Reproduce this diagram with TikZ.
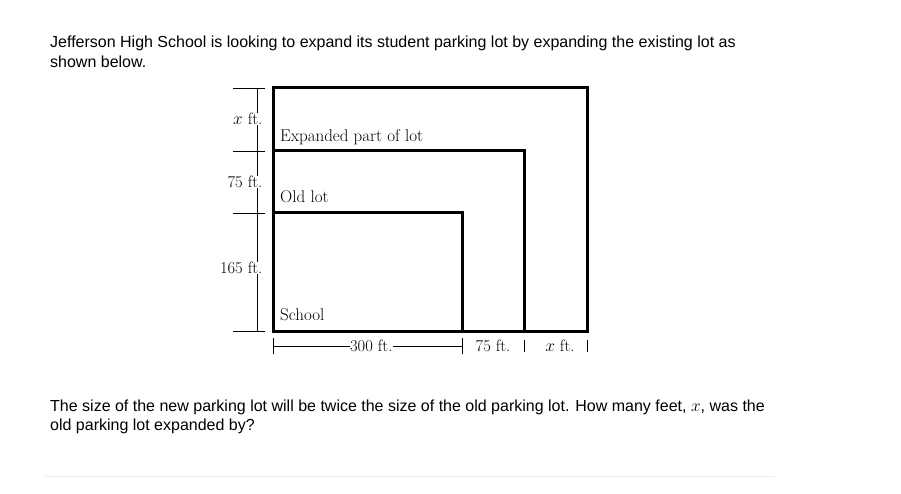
\documentclass[tikz,border=0pt]{standalone}
\usepackage{fontspec}
\newfontfamily\qfont{Liberation Sans}
\usetikzlibrary{calc,positioning}

\begin{document}
\begin{tikzpicture}[x=1pt,y=-1pt,
        LotCfg/.style={line width=3pt,line join=miter},
        DimCfg/.style={line width=0.9pt},
        DimText/.style={fill=white,inner sep=0.5pt,font=\fontsize{16.5}{18}\selectfont},
        LotText/.style={anchor=west,inner sep=0pt,font=\fontsize{17}{19}\selectfont},
        QText/.style={anchor=west,align=left,inner sep=0pt,font=\qfont\fontsize{16}{19.5}\selectfont}
    ]
    \useasboundingbox (0,0) rectangle (901,494);
    
    % question
    \node[QText] (Q1) at (50,52) {Jefferson High School is looking to expand its student parking lot by expanding the existing lot as\\shown below.};
    \node[QText] (Q2) at (50,417) {The size of the new parking lot will be twice the size of the old parking lot. How many feet, $x$, was the\\old parking lot expanded by?};
    \draw[gray!15,line width=0.8pt] (45,476)coordinate (R1)--(775,476)coordinate (R2);
    
    % new lot
    \draw[LotCfg] (273,331)coordinate (A)--(587,331)coordinate (B)--(587,88)coordinate (C)--(273,88)coordinate (D)--cycle;
    % old lot
    \draw[LotCfg] (273,151)coordinate (E)--(524,151)coordinate (F)--(524,331)coordinate (G);
    % school
    \draw[LotCfg] (273,213)coordinate (H)--(462,213)coordinate (I)--(462,331)coordinate (J);
    
    \node[LotText] (expanded) at ($(E)+(7,-14)$) {Expanded part of lot};
    \node[LotText] (oldlot) at ($(H)+(7,-16)$) {Old lot};
    \node[LotText] (school) at ($(A)+(7,-16)$) {School};
    
    % heights
    \draw[DimCfg] (257,88)coordinate (L1)--(257,331)coordinate (L4);
    \coordinate (L2) at (257,151);
    \coordinate (L3) at (257,213);
    \draw[DimCfg] ($(L1)+(-24,0)$)--($(L1)+(8,0)$);
    \draw[DimCfg] ($(L2)+(-24,0)$)--($(L2)+(8,0)$);
    \draw[DimCfg] ($(L3)+(-24,0)$)--($(L3)+(8,0)$);
    \draw[DimCfg] ($(L4)+(-24,0)$)--($(L4)+(8,0)$);
    \node[DimText,anchor=east] (hx) at (263,119) {$x$ ft.};
    \node[DimText,anchor=east] (h75) at (263,182) {75 ft.};
    \node[DimText,anchor=east] (h165) at (263,268) {165 ft.};
    
    % widths
    \draw[DimCfg] (273,346)coordinate (M1)--(462,346)coordinate (M2)node[pos=0.52,DimText] (w300){300 ft.};
    \coordinate (M3) at (524,346);
    \coordinate (M4) at (587,346);
    \draw[DimCfg] ($(M1)+(0,-8)$)--($(M1)+(0,8)$);
    \draw[DimCfg] ($(M2)+(0,-8)$)--($(M2)+(0,8)$);
    \draw[DimCfg] ($(M3)+(0,-6)$)--($(M3)+(0,6)$);
    \draw[DimCfg] ($(M4)+(0,-6)$)--($(M4)+(0,6)$);
    \node[DimText] (w75) at ($(M2)!0.5!(M3)$) {75 ft.};
    \node[DimText] (wx) at ($(M3)!0.57!(M4)$) {$x$ ft.};
    
\end{tikzpicture}
\end{document}
